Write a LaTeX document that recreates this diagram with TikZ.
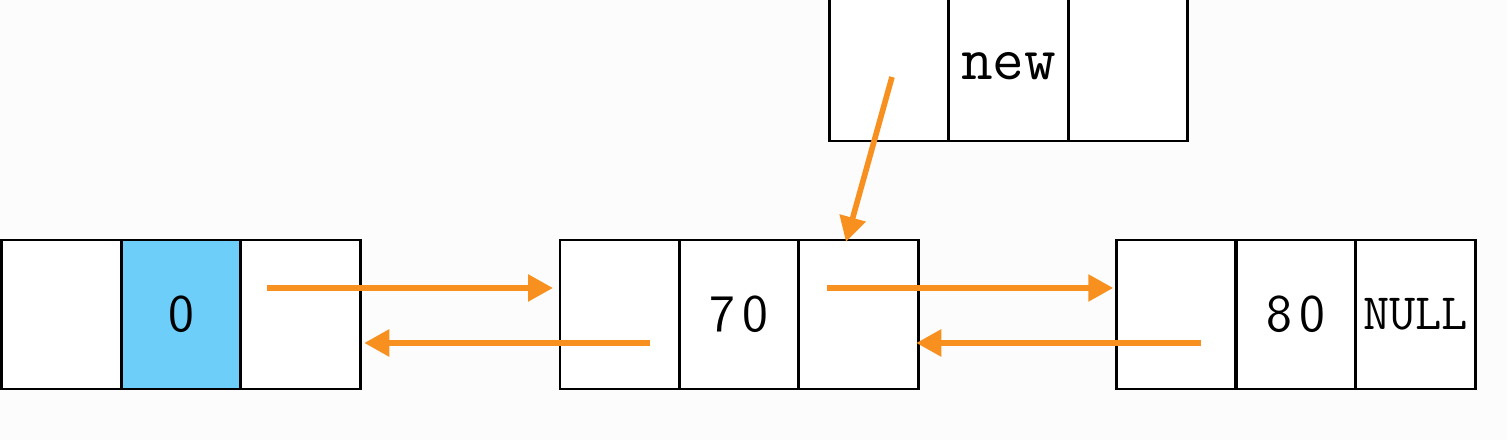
\documentclass[tikz,border=0pt]{standalone}
\usepackage{fontspec}
\usetikzlibrary{arrows.meta}
\newcommand\numfont{\fontsize{15}{16}\sffamily}
\definecolor{linkorange}{RGB}{247,144,30}
\definecolor{cellblue}{RGB}{108,206,249}
\begin{document}
\begin{tikzpicture}[
    cell/.style={draw,line width=0.8pt,minimum width=1.195cm,minimum height=1.49cm,
      inner sep=0pt,outer sep=0pt,fill=white},
    link/.style={linkorange,line width=1.6pt,-{Triangle[length=0.25cm,width=0.26cm]}}]
  \useasboundingbox[fill=black!1] (0,0) rectangle (15.07,4.40);
  \clip (0,0) rectangle (15.07,4.40);
  % list nodes
  \node[cell] (a1) at (0.615,1.255) {};
  \node[cell,fill=cellblue] (a2) at (1.81,1.255) {\numfont 0};
  \node[cell] (a3) at (3.005,1.255) {};
  \node[cell] (b1) at (6.1975,1.255) {};
  \node[cell] (b2) at (7.39,1.255) {\numfont 7\kern2pt0};
  \node[cell] (b3) at (8.585,1.255) {};
  \node[cell] (c1) at (11.76,1.255) {};
  \node[cell] (c2) at (12.96,1.255) {\numfont 8\kern2pt0};
  \node[cell] (c3) at (14.155,1.255) {\fontsize{14.5}{16}\ttfamily NULL};
  % the new node
  \node[cell] (n1) at (8.895,3.735) {};
  \node[cell] (n2) at (10.085,3.735) {\fontsize{17.5}{18}\ttfamily new};
  \node[cell] (n3) at (11.28,3.735) {};
  % links
  \draw[link] ([xshift=-0.335cm,yshift=0.265cm]a3.center) -- ([xshift=-0.07cm,yshift=0.265cm]b1.west);
  \draw[link] ([xshift=0.30cm,yshift=-0.285cm]b1.center) -- ([xshift=0.04cm,yshift=-0.285cm]a3.east);
  \draw[link] ([xshift=-0.315cm,yshift=0.265cm]b3.center) -- ([xshift=-0.03cm,yshift=0.265cm]c1.west);
  \draw[link] ([xshift=0.25cm,yshift=-0.285cm]c1.center) -- ([xshift=-0.02cm,yshift=-0.285cm]b3.east);
  \draw[link] ([xshift=0.025cm,yshift=-0.105cm]n1.center) -- ([xshift=-0.125cm,yshift=-0.02cm]b3.north);
\end{tikzpicture}
\end{document}
